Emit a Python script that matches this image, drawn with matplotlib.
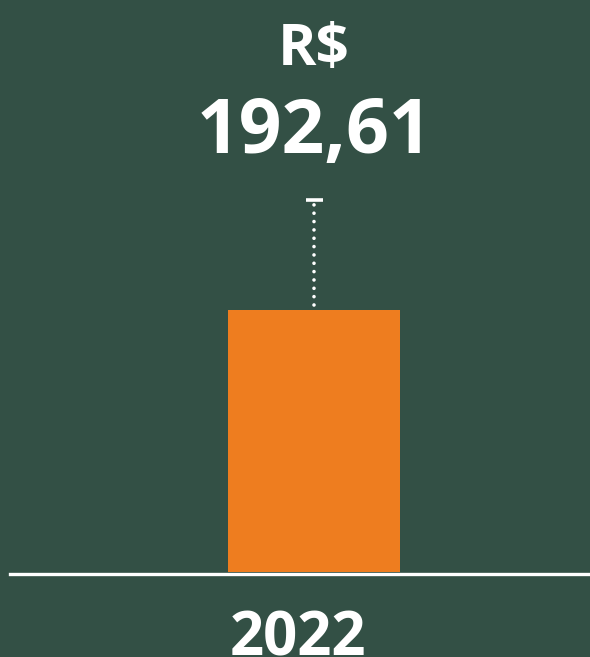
import matplotlib
matplotlib.use("Agg")
import matplotlib.pyplot as plt

# data
years = ["2022"]
values = [192.61]
currency = "R$"

BG = "#335045"
ORANGE = "#EE7D1F"
WHITE = "#FFFFFF"
FONT = ["Open Sans", "DejaVu Sans"]

fig = plt.figure(figsize=(5.9, 6.57), dpi=100, facecolor=BG)
ax = fig.add_axes([10 / 590, 85 / 657, 580 / 590, 572 / 657])
ax.set_facecolor(BG)

xs = list(range(len(years)))
ax.bar(xs, values, width=0.5, color=ORANGE, zorder=2)
ax.set_xlim(-0.884, 0.802)
ax.set_ylim(0, 420.6)

for x, v, yr in zip(xs, values, years):
    lead_top = v + 78.7
    ax.plot([x, x], [v + 4, lead_top], color=WHITE, lw=2.6,
            linestyle=(0, (0.01, 2.3)), dash_capstyle="round", zorder=3)
    ax.plot([x - 0.025, x + 0.025], [lead_top + 2, lead_top + 2],
            color=WHITE, lw=2.6, solid_capstyle="butt", zorder=3)
    ax.text(x, v + 129.5, f"{v:.2f}".replace(".", ","), ha="center",
            va="center", color=WHITE, fontsize=54, fontweight="bold",
            family=FONT)
    ax.text(x, v + 191.5, currency, ha="center", va="center", color=WHITE,
            fontsize=42, fontweight="bold", family=FONT)
    # year label sits slightly left of the bar centre and runs off the bottom
    ax.text(x - 0.0465, -50, yr, ha="center", va="center", color=WHITE,
            fontsize=43, fontweight="bold", family=FONT, clip_on=False)

ax.axhline(-1.6, color=WHITE, lw=2.4, zorder=4, clip_on=False)
ax.axis("off")

fig.savefig("out.png", dpi=100, facecolor=BG)
